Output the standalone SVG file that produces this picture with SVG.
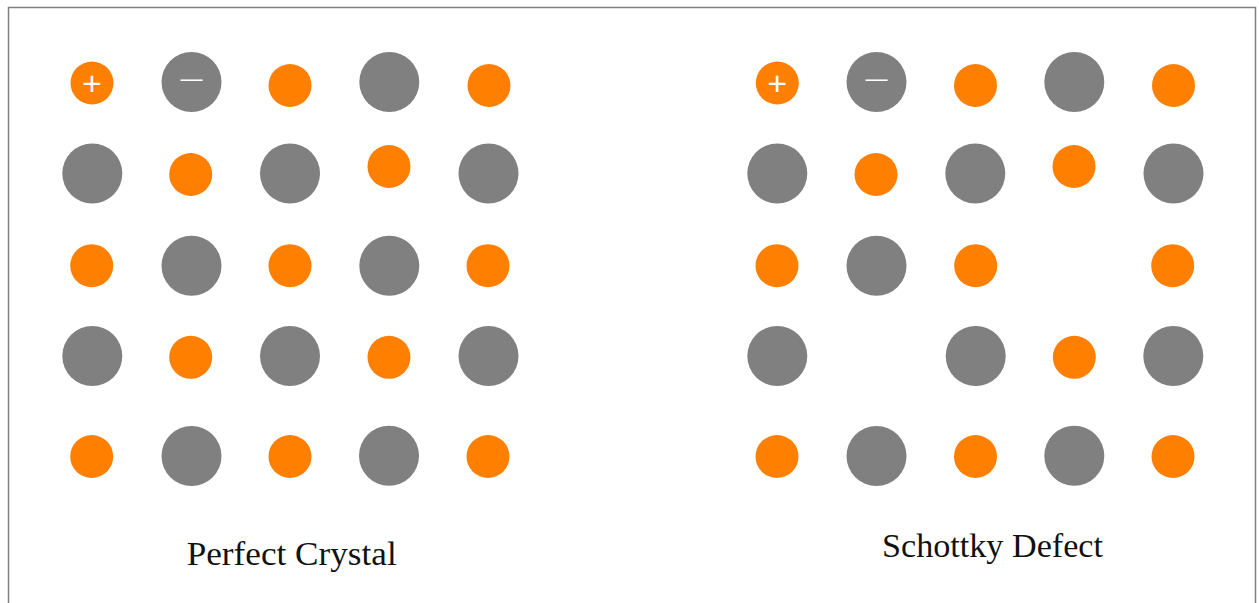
<svg xmlns="http://www.w3.org/2000/svg" width="1259" height="603" viewBox="0 0 1259 603">
<style>
.c{fill:#FF8000}
.a{fill:#808080}
.s{fill:#FFFFFF;font-family:"Liberation Sans",Arial,sans-serif;text-anchor:middle}
.t{fill:#111111;font-family:"Liberation Serif","Times New Roman",serif;text-anchor:middle}
</style>
<rect x="0" y="0" width="1259" height="603" fill="#FFFFFF"/>
<rect x="8.5" y="7.5" width="1247" height="610" fill="none" stroke="#7F7F7F" stroke-width="1.5"/>
<g id="perfect-crystal">
<g id="p-r1"><circle class="c" cx="92" cy="83" r="21.5"/><text class="s" x="92" y="94.5" font-size="34">+</text><circle class="a" cx="191.5" cy="82" r="30"/><text class="s" x="191.5" y="85.5" font-size="22">—</text><circle class="c" cx="290" cy="85.5" r="21.5"/><circle class="a" cx="389.3" cy="82" r="30"/><circle class="c" cx="489" cy="85.5" r="21.5"/></g>
<g id="p-r2"><circle class="a" cx="92.3" cy="173.5" r="30"/><circle class="c" cx="190.7" cy="174.5" r="21.5"/><circle class="a" cx="290" cy="173.5" r="30"/><circle class="c" cx="389" cy="166.5" r="21.5"/><circle class="a" cx="488.5" cy="173.5" r="30"/></g>
<g id="p-r3"><circle class="c" cx="91.7" cy="265.7" r="21.5"/><circle class="a" cx="191.5" cy="265.7" r="30"/><circle class="c" cx="290" cy="265.7" r="21.5"/><circle class="a" cx="389.3" cy="265.7" r="30"/><circle class="c" cx="488" cy="265.7" r="21.5"/></g>
<g id="p-r4"><circle class="a" cx="92.3" cy="356" r="30"/><circle class="c" cx="190.7" cy="357.3" r="21.5"/><circle class="a" cx="290" cy="356" r="30"/><circle class="c" cx="389" cy="357.3" r="21.5"/><circle class="a" cx="488.5" cy="356" r="30"/></g>
<g id="p-r5"><circle class="c" cx="91.7" cy="456.5" r="21.5"/><circle class="a" cx="191.5" cy="456" r="30"/><circle class="c" cx="290" cy="456.5" r="21.5"/><circle class="a" cx="389" cy="455.8" r="30"/><circle class="c" cx="488" cy="456.5" r="21.5"/></g>
<text id="label-perfect" class="t" x="291.7" y="565" font-size="34" textLength="210" lengthAdjust="spacingAndGlyphs">Perfect Crystal</text>
</g>
<g id="schottky-defect">
<g id="s-r1"><circle class="c" cx="777.3" cy="83" r="21.5"/><text class="s" x="777.3" y="94.5" font-size="34">+</text><circle class="a" cx="876.5" cy="82" r="30"/><text class="s" x="876.5" y="85.5" font-size="22">—</text><circle class="c" cx="975.5" cy="85.5" r="21.5"/><circle class="a" cx="1074.3" cy="82" r="30"/><circle class="c" cx="1173.5" cy="85.5" r="21.5"/></g>
<g id="s-r2"><circle class="a" cx="777.3" cy="173.5" r="30"/><circle class="c" cx="876" cy="174.5" r="21.5"/><circle class="a" cx="975.3" cy="173.5" r="30"/><circle class="c" cx="1074" cy="166.5" r="21.5"/><circle class="a" cx="1173.5" cy="173.5" r="30"/></g>
<g id="s-r3"><circle class="c" cx="777" cy="265.7" r="21.5"/><circle class="a" cx="876.5" cy="265.7" r="30"/><circle class="c" cx="975.7" cy="265.7" r="21.5"/><circle class="c" cx="1172.7" cy="265.7" r="21.5"/></g>
<g id="s-r4"><circle class="a" cx="777.3" cy="356" r="30"/><circle class="a" cx="975.7" cy="356" r="30"/><circle class="c" cx="1074.3" cy="357.3" r="21.5"/><circle class="a" cx="1173.3" cy="356" r="30"/></g>
<g id="s-r5"><circle class="c" cx="777" cy="456.5" r="21.5"/><circle class="a" cx="876.5" cy="456" r="30"/><circle class="c" cx="975.5" cy="456.5" r="21.5"/><circle class="a" cx="1074.3" cy="455.8" r="30"/><circle class="c" cx="1173" cy="456.5" r="21.5"/></g>
<text id="label-schottky" class="t" x="992.5" y="556.5" font-size="34" textLength="221" lengthAdjust="spacingAndGlyphs">Schottky Defect</text>
</g>
<g id="connectors"/>
</svg>
